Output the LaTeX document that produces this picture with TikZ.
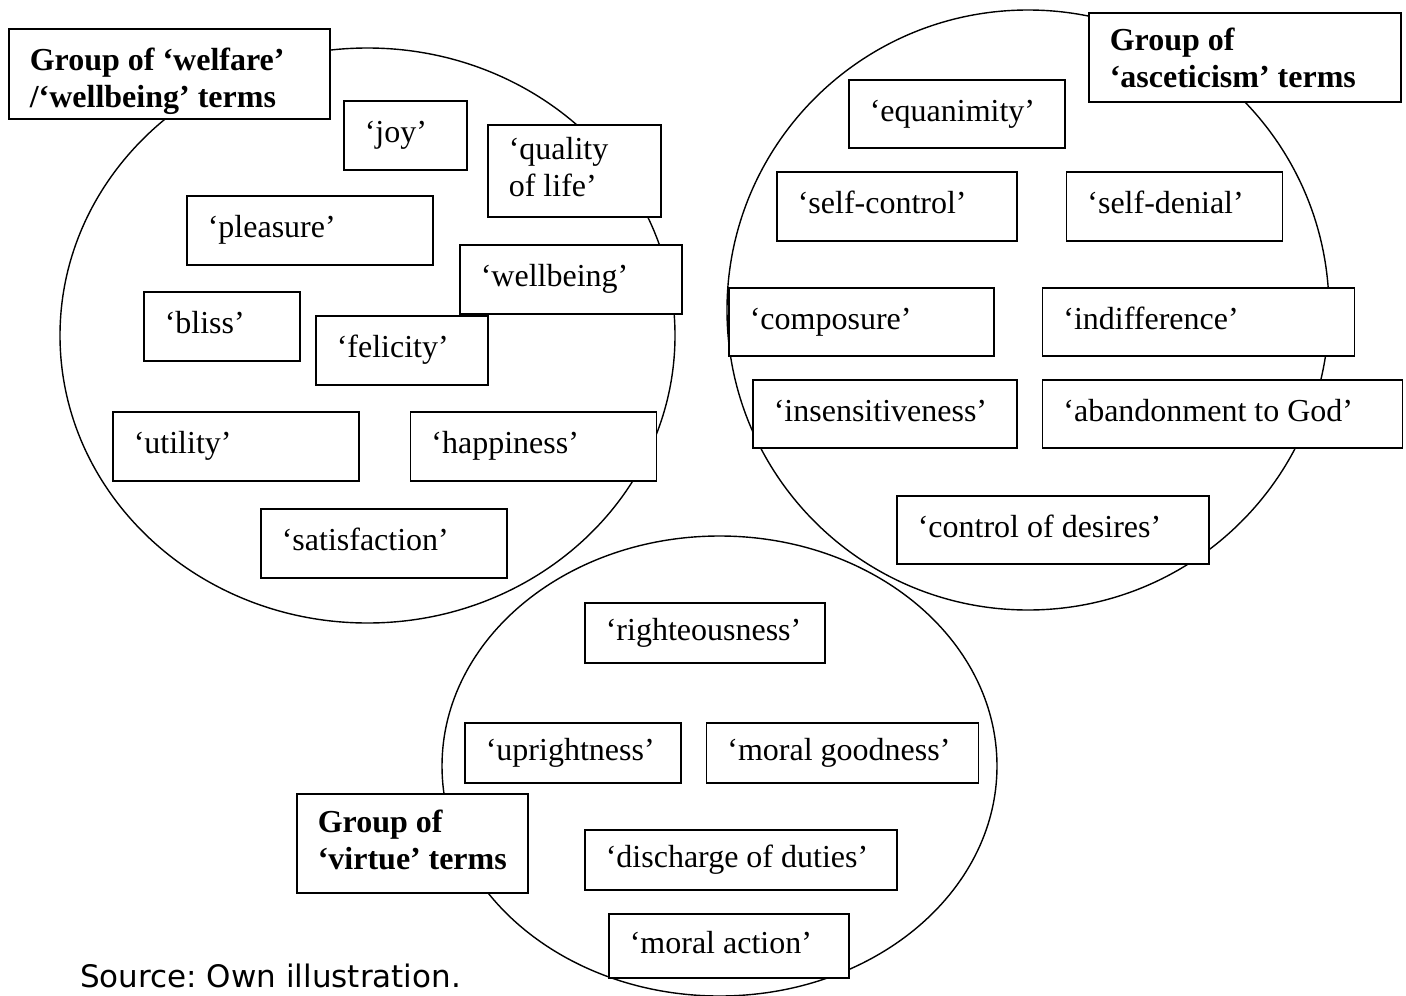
\documentclass[tikz,border=0pt]{standalone}
\usepackage{fontspec}
\newfontfamily\termfont{Liberation Serif}
\newfontfamily\srcfont{DejaVu Sans}
\usetikzlibrary{positioning, shapes.geometric}
\frenchspacing

\tikzset{
  group/.style={draw, ellipse, line width=1.4pt, inner sep=0pt},
  term/.style={draw, fill=white, line width=1.6pt, anchor=north west,
    inner xsep=21pt, inner ysep=0pt, align=flush left, text width=#1,
    execute at begin node=\strut, execute at end node=\strut,
    font=\termfont\fontsize{32}{37}\selectfont},
  grouplabel/.style={term=#1, font=\termfont\bfseries\fontsize{32}{37}\selectfont},
}

\begin{document}
\begin{tikzpicture}[x=1pt, y=-1pt]
\useasboundingbox (0,0) rectangle (1406,996);

% the three groups
\node[group, minimum width=615pt, minimum height=575pt] (welfare) at (367.5,335.5) {};
\node[group, minimum width=602pt, minimum height=600pt] (ascetic) at (1028,310) {};
\node[group, minimum width=555pt, minimum height=460pt] (virtue) at (719.5,766) {};

% welfare / wellbeing
\node[grouplabel=279pt, minimum height=90pt, execute at begin node={\rule{0pt}{42pt}}] (wtitle) at (8,28) {Group of ‘welfare’\\/‘wellbeing’ terms};
\node[term=81pt, minimum height=69pt] (joy) at (343,100) {‘joy’};
\node[term=131pt, minimum height=92pt] (quality) at (487,124) {‘quality\\of life’};
\node[term=204pt, minimum height=69pt] (pleasure) at (186,195) {‘pleasure’};
\node[term=180pt, minimum height=69pt] (wellbeing) at (459,244) {‘wellbeing’};
\node[term=114pt, minimum height=69pt] (bliss) at (143,291) {‘bliss’};
\node[term=130pt, minimum height=69pt] (felicity) at (315,315) {‘felicity’};
\node[term=204pt, minimum height=69pt] (utility) at (112,411) {‘utility’};
\node[term=204pt, minimum height=69pt, right=50pt of utility] (happiness) {‘happiness’};
\node[term=204pt, minimum height=69pt] (satisfaction) at (260,508) {‘satisfaction’};

% asceticism
\node[grouplabel=270pt, minimum height=89pt, execute at begin node={\rule{0pt}{34pt}}] (atitle) at (1088,12) {Group of\\‘asceticism’ terms};
\node[term=174pt, minimum height=68pt] (equanimity) at (848,79) {‘equanimity’};
\node[term=198pt, minimum height=69pt] (selfcontrol) at (776,171) {‘self-control’};
\node[term=174pt, minimum height=69pt, right=48pt of selfcontrol] (selfdenial) {‘self-denial’};
\node[term=223pt, minimum height=68pt] (composure) at (728,287) {‘composure’};
\node[term=270pt, minimum height=68pt, right=47pt of composure] (indifference) {‘indifference’};
\node[term=222pt, minimum height=68pt] (insensitive) at (752,379) {‘insensitiveness’};
\node[term=318pt, minimum height=68pt, right=24pt of insensitive] (abandon) {‘abandonment to God’};
\node[term=270pt, minimum height=68pt] (desires) at (896,495) {‘control of desires’};

% virtue
\node[grouplabel=189pt, minimum height=99pt] (vtitle) at (296,793) {Group of\\‘virtue’ terms};
\node[term=198pt, minimum height=60pt] (righteous) at (584,602) {‘righteousness’};
\node[term=174pt, minimum height=60pt] (upright) at (464,722) {‘uprightness’};
\node[term=230pt, minimum height=60pt, right=24pt of upright] (goodness) {‘moral goodness’};
\node[term=270pt, minimum height=60pt] (duties) at (584,829) {‘discharge of duties’};
\node[term=198pt, minimum height=64pt] (moralaction) at (608,913) {‘moral action’};

\node[anchor=west, inner sep=0pt, font=\srcfont\fontsize{31}{36}\selectfont] (source) at (80,976) {Source: Own illustration.};
\end{tikzpicture}
\end{document}
